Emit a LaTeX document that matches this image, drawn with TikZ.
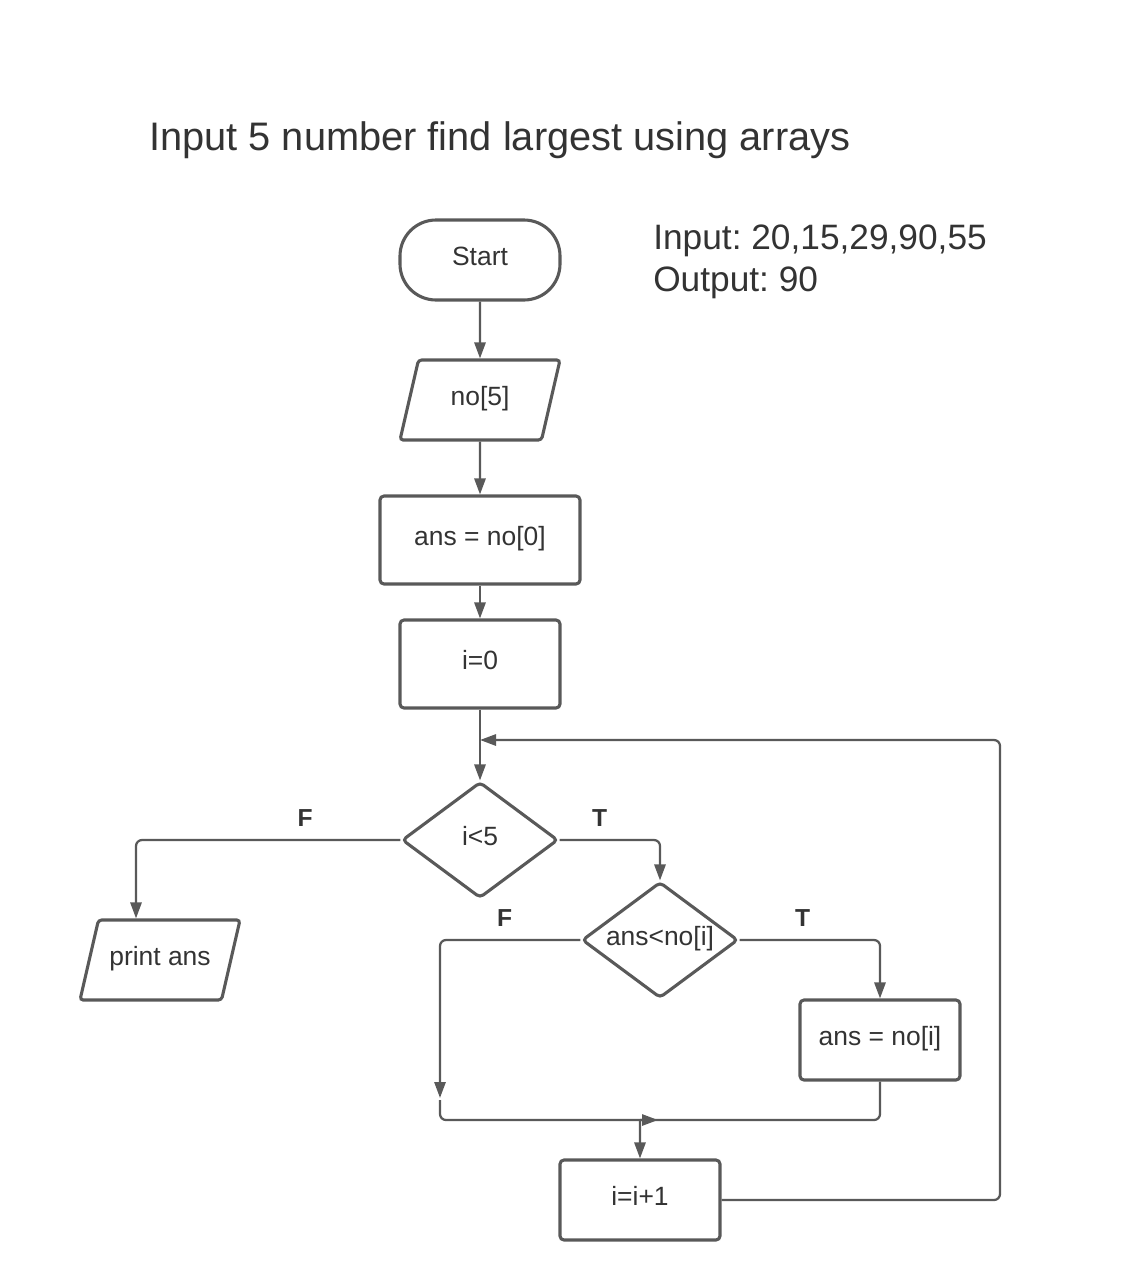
\documentclass[tikz,border=0pt]{standalone}
\usepackage{fontspec}
\setmainfont{Liberation Sans}
\usetikzlibrary{shapes.geometric,arrows.meta}
\definecolor{linegray}{HTML}{595959}
\definecolor{textgray}{HTML}{333333}
\newcommand{\bodyfont}{\fontsize{18.8}{22}\selectfont}
\newcommand{\titlefont}{\fontsize{28.3}{33}\selectfont}
\newcommand{\infofont}{\fontsize{25.1}{29.2}\selectfont}
\newcommand{\labelfont}{\bfseries\fontsize{17.5}{20}\selectfont}
\tikzstyle{startstop} = [rectangle, rounded corners=0.9cm, minimum width=4cm, minimum height = 2cm, text height=0.5cm, text depth=0.225cm, text centered, draw=linegray, line width=2.2pt, text=textgray, font=\bodyfont]
\tikzstyle{io} = [trapezium, trapezium left angle=77, trapezium right angle=103, trapezium stretches body, rounded corners=0.08cm, minimum width=4cm, text height=0.5cm, text depth=0.225cm, inner ysep=0.6375cm, text centered, draw=linegray, line width=2.2pt, text=textgray, font=\bodyfont]
\tikzstyle{process} = [rectangle, rounded corners=0.1cm, minimum width=4cm, minimum height = 2cm, text height=0.5cm, text depth=0.225cm, text centered, draw=linegray, line width=2.2pt, text=textgray, font=\bodyfont]
\tikzstyle{decision} = [diamond, aspect=1.34, rounded corners=0.1cm, inner sep=0pt, minimum width=3.9cm, minimum height = 2.9cm, text height=0.5cm, text depth=0.225cm, text centered, draw=linegray, line width=2.2pt, text=textgray, font=\bodyfont]
\tikzstyle{line} = [draw=linegray, line width=1.6pt, rounded corners=0.15cm]
\tikzstyle{arrow} = [line, ->, >={Triangle[length=0.4cm, width=0.28cm]}]
\tikzstyle{tf} = [anchor = south, yshift = 0.2cm, text=textgray, font=\labelfont]

\begin{document}
\frenchspacing
\begin{tikzpicture}[node distance = 3.5cm]
	\useasboundingbox (0,0) rectangle (28.7,-32);
	\node (title) [anchor = base west, inner sep=0pt, text=textgray, font=\titlefont] at (3.725,-3.75) {Input 5 number find largest using arrays};
	\node (info) [anchor = base west, inner sep=0pt, align=left, text=textgray, font=\infofont] at (16.325,-7.275) {Input: 20,15,29,90,55\\Output: 90};
	
	\node (start) [startstop] at (12,-6.5) {Start};
	\node (no5) [io, below of = start] {no[5]};
	\node (ans0) [process, below of = no5, minimum width=5cm, minimum height=2.2cm] {ans = no[0]};
	\node (i0) [process, below of = ans0, yshift = 0.4cm, minimum height=2.2cm] {i=0};
	\node (dec1) [decision, below of = i0, yshift = -0.9cm] {i<5};
	\node (dec2) [decision, below of = dec1, xshift = 4.5cm, yshift = 1cm] {ans<no[i]};
	\node (print) [io, below of = dec1, xshift = -8cm, yshift = 0.5cm] {print ans};
	\node (ansi) [process, below of = dec2, xshift = 5.5cm, yshift = 1cm] {ans = no[i]};
	\node (inc) [process, below of = dec2, xshift = -0.5cm, yshift = -3cm] {i=i+1};
	
	\coordinate (back) at (12,-18.5);
	\coordinate (loopc) at (25,-18.5);
	\coordinate (fend) at (11,-27.45);
	\coordinate (fstart) at (11,-27.5);
	\coordinate (mtip) at (16.45,-28);
	\coordinate (merge) at (16,-28);
	
	\draw [arrow] (start) -- (no5);
	\draw [arrow] (no5) -- (ans0);
	\draw [arrow] (ans0) -- (i0);
	\draw [arrow] (i0) -- (dec1);
	\draw [arrow] (dec1.west) -| node[tf, pos = 0.18] {F} ([xshift = -0.6cm]print.north);
	\draw [arrow] (dec1.east) -| node[tf, pos = 0.2] {T} (dec2.north);
	\draw [arrow] (dec2.west) -| node[tf, pos = 0.27] {F} (fend);
	\draw [arrow] (dec2.east) -| node[tf, pos = 0.225] {T} (ansi.north);
	\draw [arrow] (fstart) |- (mtip);
	\draw [line] (ansi.south) |- (merge);
	\draw [arrow] (merge) -- (inc);
	\draw [arrow] (inc.east) -| (loopc) -- (back);
\end{tikzpicture}
\end{document}
